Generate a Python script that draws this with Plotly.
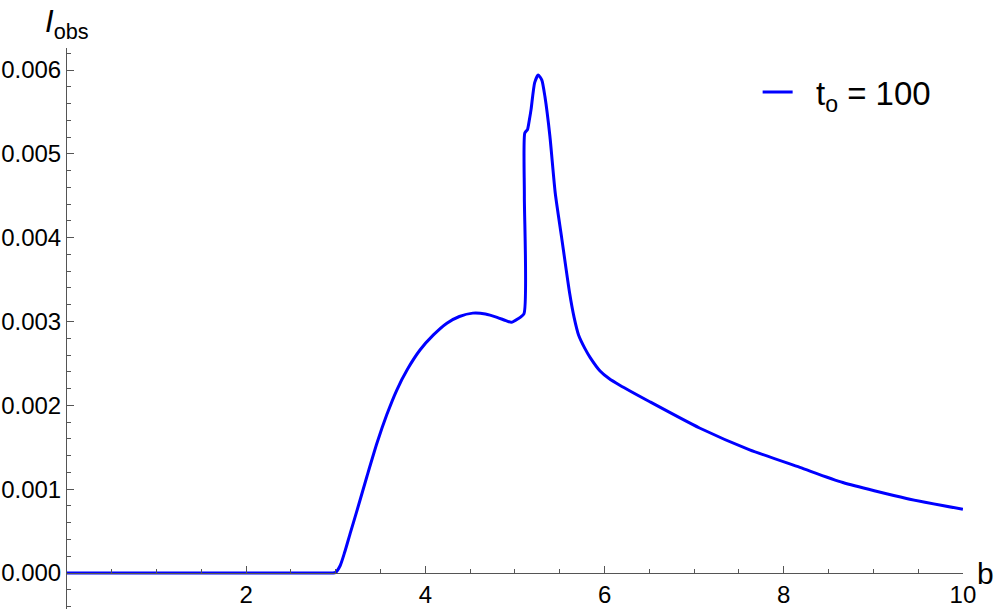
import plotly.graph_objects as go

# curve (b, I_obs)
b_vals = [0.0, 2.5, 2.9, 2.97, 3.0, 3.05, 3.1, 3.16, 3.23, 3.35, 3.46, 3.57, 3.68,
          3.8, 3.94, 4.09, 4.24, 4.38, 4.53, 4.67, 4.8, 4.9, 4.96, 5.03, 5.1,
          5.105, 5.11, 5.14, 5.16, 5.18, 5.22, 5.26, 5.3, 5.335, 5.39, 5.45,
          5.52, 5.61, 5.66, 5.71, 5.78, 5.84, 5.95, 6.05, 6.17, 6.51, 7.06,
          7.62, 8.18, 8.66, 9.37, 10.0]
i_obs = [0.0, 0.0, 0.0, 0.0, 0.00001, 0.00009, 0.00025, 0.00047, 0.00072, 0.00116,
         0.00155, 0.00189, 0.00218, 0.00243, 0.00266, 0.00284, 0.00298, 0.00306,
         0.0031, 0.00309, 0.00305, 0.00301, 0.00299, 0.00303, 0.00309, 0.0045,
         0.00525, 0.00529, 0.0054, 0.00553, 0.00585, 0.00594, 0.00588, 0.00568,
         0.00521, 0.00453, 0.00401, 0.00334, 0.00305, 0.00284, 0.00268, 0.00257,
         0.00241, 0.00232, 0.00224, 0.00204, 0.00173, 0.00147, 0.00126, 0.00108,
         0.00089, 0.00076]

x_ticks = [2, 4, 6, 8, 10]
y_ticks = [0.0, 0.001, 0.002, 0.003, 0.004, 0.005, 0.006]
y_ticktext = ["0.000", "0.001", "0.002", "0.003", "0.004", "0.005", "0.006"]

FONT = "Liberation Sans, Arial, sans-serif"
AXC = "#555555"

fig = go.Figure()
fig.add_trace(go.Scatter(
    x=b_vals, y=i_obs, mode="lines", name="&nbsp;&nbsp;t<sub>o</sub> = 100",
    line=dict(color="#0000ff", width=3, shape="spline", smoothing=0.6),
))

fig.update_layout(
    width=997, height=609,
    margin=dict(l=67, r=34, t=48, b=0, autoexpand=False),
    paper_bgcolor="white", plot_bgcolor="white",
    font=dict(family=FONT, color="black"),
    showlegend=True,
    legend=dict(x=0.7708, y=0.9216, xanchor="left", yanchor="middle",
                font=dict(size=33, family=FONT), bgcolor="rgba(0,0,0,0)"),
    xaxis=dict(
        range=[0, 10.001], anchor="free", position=36 / 561, automargin=False,
        showgrid=False, zeroline=False, showline=True, linecolor=AXC, linewidth=1,
        tickvals=x_ticks, ticktext=[str(v) for v in x_ticks],
        ticks="inside", ticklen=7, tickcolor=AXC, tickwidth=1,
        tickfont=dict(size=24, family=FONT, color="black"),
        minor=dict(dtick=0.5, tick0=0, ticks="inside", ticklen=4, tickcolor=AXC),
    ),
    yaxis=dict(
        range=[-0.000429, 0.0062624], automargin=False,
        showgrid=False, zeroline=False, showline=True, linecolor=AXC, linewidth=1,
        tickvals=y_ticks, ticktext=y_ticktext,
        ticks="inside", ticklen=7, tickcolor=AXC, tickwidth=1,
        tickfont=dict(size=24, family=FONT, color="black"),
        minor=dict(dtick=0.0002, tick0=0, ticks="inside", ticklen=4, tickcolor=AXC),
    ),
    annotations=[
        dict(text="<i>I</i><sub>obs</sub>", xref="paper", yref="paper",
             x=0.0, y=1.043, xanchor="center", yanchor="middle", showarrow=False,
             font=dict(size=31, family=FONT)),
        dict(text="b", xref="paper", yref="paper",
             x=1.0246, y=0.0633, xanchor="center", yanchor="middle", showarrow=False,
             font=dict(size=30, family=FONT)),
    ],
)

# the page's default body margin would push the figure 8px right/down
fig.write_html("out.html", config={"displayModeBar": False},
               post_script="document.body.style.margin='0';")
